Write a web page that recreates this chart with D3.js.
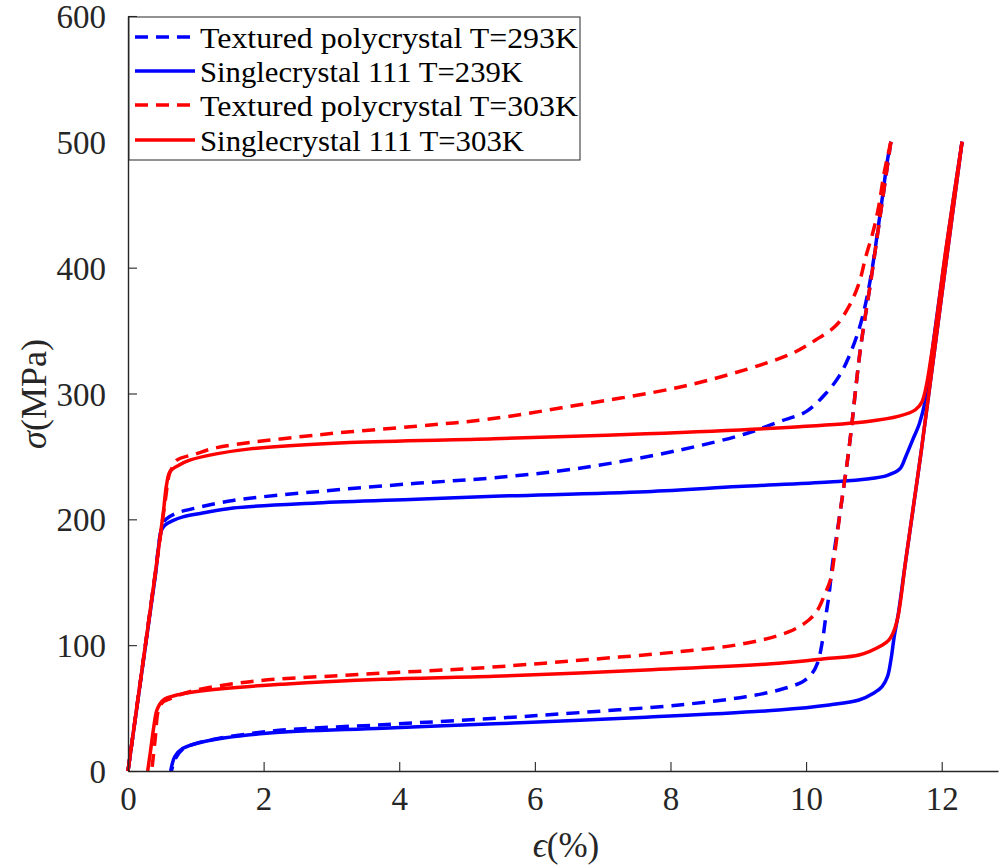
<!DOCTYPE html>
<html>
<head>
<meta charset="utf-8">
<script src="https://cdn.jsdelivr.net/npm/d3@7"></script>
<style>
  html, body { margin: 0; padding: 0; background: #fff; }
  svg { display: block; }
  text { font-family: "Liberation Serif", "DejaVu Serif", serif; }
</style>
</head>
<body>
<svg id="chart" width="1000" height="867"></svg>
<script>
// ---- Data (strain %, stress MPa) ----
const xTicks = [0, 2, 4, 6, 8, 10, 12];
const yTicks = [0, 100, 200, 300, 400, 500, 600];

const seriesNames = [
  "Textured polycrystal T=293K",
  "Singlecrystal 111 T=239K",
  "Textured polycrystal T=303K",
  "Singlecrystal 111 T=303K"
];
const seriesColors = ["#0000ff", "#0000ff", "#ff0000", "#ff0000"];
const seriesDashed = [true, false, true, false];
const legendTextWidths = [378, 323, 378, 324];

// Textured polycrystal T=293K (blue dashed)
const poly293Loading = [
  [0,0],[0.2,78],[0.4,156],[0.5,194],[0.56,200],[0.72,205],[1.0,209],[1.55,215],[2.78,222],
  [4.25,228.6],[5.4,233],[6.66,240.6],[8.13,255],[9.11,268],[9.6,277.6],[10.0,285.6],[10.29,300],
  [10.49,314],[10.63,329],[10.78,351],[10.88,372],[10.98,401],[11.05,427],[11.12,454],[11.2,485.6],[11.25,500]
];
const poly293Unloading = [
  [11.25,500],[11.1,444],[10.95,388],[10.8,335],[10.63,255],[10.5,205],[10.39,165],[10.34,141],
  [10.29,122.6],[10.24,103],[10.17,86],[10.08,77],[9.95,71],[9.6,64.4],[9.11,59],[8.13,52.5],
  [6.66,46.4],[5.3,41.5],[3.76,36.8],[2.04,31.3],[1.01,22],[0.8,17],[0.7,10],[0.64,0]
];

// Singlecrystal 111 T=239K (blue solid)
const single239Loading = [
  [0,0],[0.2,77],[0.4,154],[0.5,192],[0.56,196],[0.66,199],[0.81,202],[1.1,205],[1.55,209],
  [2.78,213],[4.25,216],[5.4,218.3],[7.64,222],[9.0,226],[10.34,229.7],[10.9,232],[11.2,235],
  [11.38,240],[11.47,250],[11.57,263],[11.67,276],[11.76,295],[11.9,350],[12.1,428],[12.3,500]
];
const single239Unloading = [
  [12.3,500],[12.0,378],[11.7,255],[11.45,160],[11.36,125],[11.3,107],[11.25,88],[11.2,75],
  [11.12,67],[11.0,62],[10.78,56.4],[10.34,52.5],[9.6,48.5],[7.64,42.7],[5.4,37.5],[3.76,34],
  [2.04,30],[1.11,23.3],[0.81,18],[0.69,11.4],[0.63,0]
];

// Textured polycrystal T=303K (red dashed)
const poly303Loading = [
  [0,0],[0.2,78],[0.4,156],[0.55,215],[0.61,236],[0.66,242],[0.72,247],[1.0,252],[1.31,257],
  [2.78,267],[4.25,274],[5.3,279.5],[6.66,291],[8.13,305],[9.11,319],[9.8,332],[10.14,342.5],
  [10.44,354],[10.63,369],[10.78,387.6],[10.88,408.7],[10.98,427],[11.07,448.5],[11.15,475],[11.25,500]
];
const poly303Unloading = [
  [11.25,500],[11.1,444],[10.95,388],[10.8,335],[10.63,255],[10.5,205],[10.42,172],[10.36,152],
  [10.28,141],[10.17,128],[10.04,120],[9.75,110.7],[9.11,101.5],[8.13,94.8],[6.66,88],[5.3,82.3],
  [3.27,76.3],[1.8,71],[0.91,63],[0.6,57],[0.52,55],[0.45,48.5],[0.4,25],[0.35,0]
];

// Singlecrystal 111 T=303K (red solid)
const single303Loading = [
  [0,0],[0.2,78],[0.4,156],[0.52,205],[0.57,228],[0.62,238],[0.75,243],[0.91,247],[1.3,252],
  [1.8,256],[3.27,261],[5.4,264],[7.64,268],[9.9,273.6],[10.88,277.6],[11.37,282],[11.61,287],
  [11.71,293.5],[11.86,334.6],[12.06,414],[12.3,500]
];
const single303Unloading = [
  [12.3,500],[12.0,378],[11.7,255],[11.47,167.7],[11.36,124],[11.3,112],[11.22,104],[11.12,100],
  [10.78,92.2],[10.34,89.6],[9.6,85.6],[7.64,80.3],[5.4,75.3],[3.76,72.9],[2.29,69],[1.31,65],
  [0.72,60.4],[0.52,56.4],[0.43,49],[0.38,35],[0.33,15],[0.29,0]
];

const seriesBranches = [
  [poly293Loading, poly293Unloading],
  [single239Loading, single239Unloading],
  [poly303Loading, poly303Unloading],
  [single303Loading, single303Unloading]
];

// ---- Layout ----
const svg = d3.select("#chart");
const x = d3.scaleLinear().domain([0, 12.83]).range([128, 998]);
const y = d3.scaleLinear().domain([0, 600]).range([771, 16]);
const axisColor = "#262626";
const tickLen = 9;

// Curves
const line = d3.line().x(d => x(d[0])).y(d => y(d[1])).curve(d3.curveCatmullRom.alpha(0.5));
const plot = svg.append("g");
seriesBranches.forEach((branches, i) => {
  branches.forEach(d => {
    plot.append("path")
      .attr("d", line(d))
      .attr("fill", "none")
      .attr("stroke", seriesColors[i])
      .attr("stroke-width", 3.5)
      .attr("stroke-linejoin", "round")
      .attr("stroke-linecap", "butt")
      .attr("stroke-dasharray", seriesDashed[i] ? "13,8" : null);
  });
});

// Axes
const xAxis = d3.axisBottom(x).tickValues(xTicks).tickSizeInner(-tickLen).tickSizeOuter(0).tickPadding(16);
const yAxis = d3.axisLeft(y).tickValues(yTicks).tickSizeInner(-tickLen).tickSizeOuter(0).tickPadding(22);

const gx = svg.append("g").attr("transform", "translate(0,771)").call(xAxis);
const gy = svg.append("g").attr("transform", "translate(128,0)").call(yAxis);
[gx, gy].forEach(g => {
  g.select(".domain").attr("stroke", axisColor).attr("stroke-width", 1.4);
  g.selectAll(".tick line").attr("stroke", axisColor).attr("stroke-width", 1.1);
  g.selectAll(".tick text")
    .attr("fill", axisColor)
    .style("font-family", '"Liberation Serif", serif')
    .style("font-size", "33px");
});
gx.selectAll(".tick text").attr("dy", "0.71em");
gy.selectAll(".tick text").attr("dy", "0.35em");

// Axis labels
const yl = svg.append("text")
  .attr("transform", "translate(46,394) rotate(-90)")
  .attr("text-anchor", "middle")
  .attr("fill", axisColor)
  .style("font-size", "36px");
yl.append("tspan").attr("font-style", "italic").text("σ");
yl.append("tspan").text("(MPa)");

const xl = svg.append("text")
  .attr("x", 566).attr("y", 857)
  .attr("text-anchor", "middle")
  .attr("fill", axisColor)
  .style("font-size", "35px");
xl.append("tspan").attr("font-style", "italic").text("ϵ");
xl.append("tspan").text("(%)");

// Legend
const leg = svg.append("g");
leg.append("rect")
  .attr("x", 129).attr("y", 17).attr("width", 451).attr("height", 143)
  .attr("fill", "#fff").attr("stroke", axisColor).attr("stroke-width", 1);
const legY = [37, 71, 105, 140];
seriesNames.forEach((name, i) => {
  leg.append("line")
    .attr("x1", 135).attr("x2", 195)
    .attr("y1", legY[i]).attr("y2", legY[i])
    .attr("stroke", seriesColors[i]).attr("stroke-width", 3.5)
    .attr("stroke-dasharray", seriesDashed[i] ? "13,8" : null);
  leg.append("text")
    .attr("x", 200).attr("y", legY[i]).attr("dy", "0.35em")
    .attr("fill", "#000")
    .attr("textLength", legendTextWidths[i])
    .attr("lengthAdjust", "spacingAndGlyphs")
    .style("font-size", "30px")
    .text(name);
});
</script>
</body>
</html>
